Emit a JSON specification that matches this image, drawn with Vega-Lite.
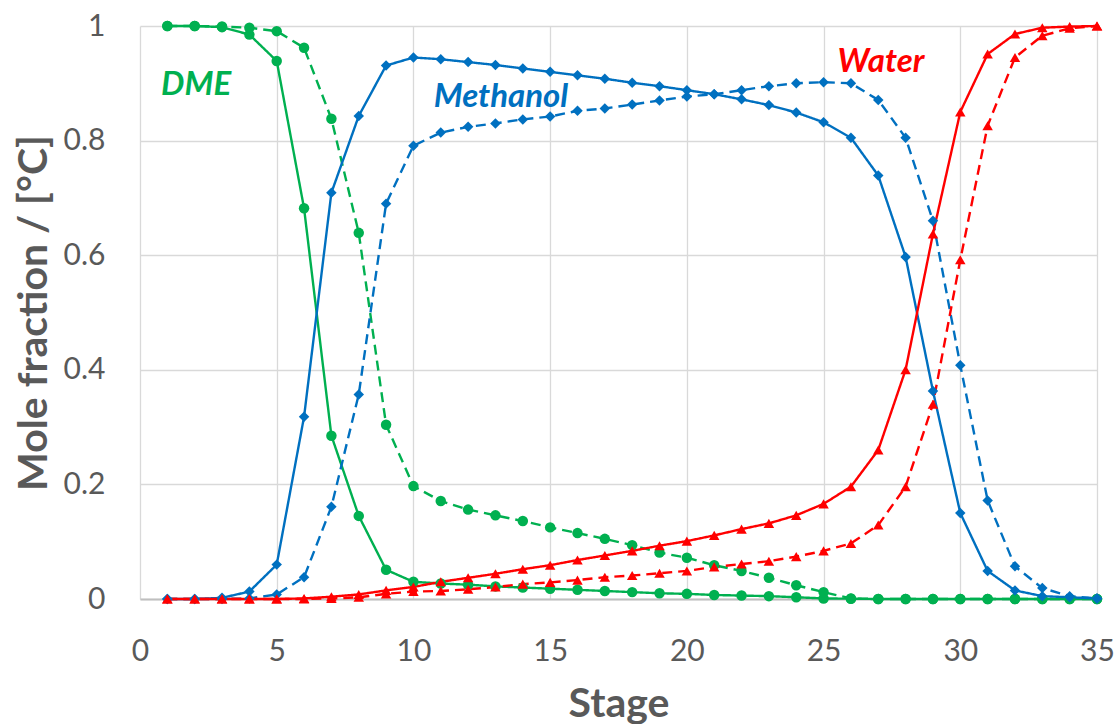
{
  "$schema": "https://vega.github.io/schema/vega-lite/v6.json",
  "autosize": "none",
  "width": 957,
  "height": 573,
  "padding": {"left": 140, "top": 26, "right": 20, "bottom": 125},
  "background": "white",
  "config": {
    "view": {"stroke": null},
    "font": "Lato",
    "axis": {
      "gridColor": "#D9D9D9",
      "gridWidth": 1.3,
      "ticks": false,
      "labelFont": "Lato",
      "labelFontSize": 30,
      "labelColor": "#595959",
      "labelFlush": false,
      "titleFont": "Lato",
      "titleFontSize": 41,
      "titleFontWeight": "bold",
      "titleColor": "#595959"
    }
  },
  "datasets": {
    "labels": [
      {"s": 2.05, "v": 0.880, "name": "DME", "comp": "DME"},
      {"s": 13.2, "v": 0.859, "name": "Methanol", "comp": "Methanol"},
      {"s": 27.1, "v": 0.920, "name": "Water", "comp": "Water"}
    ]
  },
  "data": {
    "values": [
      {"s":1,"v":1.0,"comp":"DME","kind":"solid"},
      {"s":2,"v":1.0,"comp":"DME","kind":"solid"},
      {"s":3,"v":0.998,"comp":"DME","kind":"solid"},
      {"s":4,"v":0.985,"comp":"DME","kind":"solid"},
      {"s":5,"v":0.939,"comp":"DME","kind":"solid"},
      {"s":6,"v":0.682,"comp":"DME","kind":"solid"},
      {"s":7,"v":0.285,"comp":"DME","kind":"solid"},
      {"s":8,"v":0.145,"comp":"DME","kind":"solid"},
      {"s":9,"v":0.051,"comp":"DME","kind":"solid"},
      {"s":10,"v":0.030,"comp":"DME","kind":"solid"},
      {"s":11,"v":0.027,"comp":"DME","kind":"solid"},
      {"s":12,"v":0.025,"comp":"DME","kind":"solid"},
      {"s":13,"v":0.022,"comp":"DME","kind":"solid"},
      {"s":14,"v":0.020,"comp":"DME","kind":"solid"},
      {"s":15,"v":0.018,"comp":"DME","kind":"solid"},
      {"s":16,"v":0.016,"comp":"DME","kind":"solid"},
      {"s":17,"v":0.014,"comp":"DME","kind":"solid"},
      {"s":18,"v":0.012,"comp":"DME","kind":"solid"},
      {"s":19,"v":0.010,"comp":"DME","kind":"solid"},
      {"s":20,"v":0.009,"comp":"DME","kind":"solid"},
      {"s":21,"v":0.007,"comp":"DME","kind":"solid"},
      {"s":22,"v":0.006,"comp":"DME","kind":"solid"},
      {"s":23,"v":0.005,"comp":"DME","kind":"solid"},
      {"s":24,"v":0.003,"comp":"DME","kind":"solid"},
      {"s":25,"v":0.001,"comp":"DME","kind":"solid"},
      {"s":26,"v":0.0005,"comp":"DME","kind":"solid"},
      {"s":27,"v":0.0,"comp":"DME","kind":"solid"},
      {"s":28,"v":0.0,"comp":"DME","kind":"solid"},
      {"s":29,"v":0.0,"comp":"DME","kind":"solid"},
      {"s":30,"v":0.0,"comp":"DME","kind":"solid"},
      {"s":31,"v":0.0,"comp":"DME","kind":"solid"},
      {"s":32,"v":0.0,"comp":"DME","kind":"solid"},
      {"s":33,"v":0.0,"comp":"DME","kind":"solid"},
      {"s":34,"v":0.0,"comp":"DME","kind":"solid"},
      {"s":35,"v":0.0,"comp":"DME","kind":"solid"},

      {"s":1,"v":1.0,"comp":"DME","kind":"dashed"},
      {"s":2,"v":1.0,"comp":"DME","kind":"dashed"},
      {"s":3,"v":0.999,"comp":"DME","kind":"dashed"},
      {"s":4,"v":0.997,"comp":"DME","kind":"dashed"},
      {"s":5,"v":0.991,"comp":"DME","kind":"dashed"},
      {"s":6,"v":0.962,"comp":"DME","kind":"dashed"},
      {"s":7,"v":0.838,"comp":"DME","kind":"dashed"},
      {"s":8,"v":0.639,"comp":"DME","kind":"dashed"},
      {"s":9,"v":0.304,"comp":"DME","kind":"dashed"},
      {"s":10,"v":0.197,"comp":"DME","kind":"dashed"},
      {"s":11,"v":0.171,"comp":"DME","kind":"dashed"},
      {"s":12,"v":0.156,"comp":"DME","kind":"dashed"},
      {"s":13,"v":0.146,"comp":"DME","kind":"dashed"},
      {"s":14,"v":0.136,"comp":"DME","kind":"dashed"},
      {"s":15,"v":0.125,"comp":"DME","kind":"dashed"},
      {"s":16,"v":0.115,"comp":"DME","kind":"dashed"},
      {"s":17,"v":0.105,"comp":"DME","kind":"dashed"},
      {"s":18,"v":0.094,"comp":"DME","kind":"dashed"},
      {"s":19,"v":0.081,"comp":"DME","kind":"dashed"},
      {"s":20,"v":0.072,"comp":"DME","kind":"dashed"},
      {"s":21,"v":0.059,"comp":"DME","kind":"dashed"},
      {"s":22,"v":0.049,"comp":"DME","kind":"dashed"},
      {"s":23,"v":0.037,"comp":"DME","kind":"dashed"},
      {"s":24,"v":0.024,"comp":"DME","kind":"dashed"},
      {"s":25,"v":0.012,"comp":"DME","kind":"dashed"},
      {"s":26,"v":0.001,"comp":"DME","kind":"dashed"},
      {"s":27,"v":0.0,"comp":"DME","kind":"dashed"},
      {"s":28,"v":0.0,"comp":"DME","kind":"dashed"},
      {"s":29,"v":0.0,"comp":"DME","kind":"dashed"},
      {"s":30,"v":0.0,"comp":"DME","kind":"dashed"},
      {"s":31,"v":0.0,"comp":"DME","kind":"dashed"},
      {"s":32,"v":0.0,"comp":"DME","kind":"dashed"},
      {"s":33,"v":0.0,"comp":"DME","kind":"dashed"},
      {"s":34,"v":0.0,"comp":"DME","kind":"dashed"},
      {"s":35,"v":0.0,"comp":"DME","kind":"dashed"},

      {"s":1,"v":0.0,"comp":"Methanol","kind":"solid"},
      {"s":2,"v":0.0,"comp":"Methanol","kind":"solid"},
      {"s":3,"v":0.002,"comp":"Methanol","kind":"solid"},
      {"s":4,"v":0.013,"comp":"Methanol","kind":"solid"},
      {"s":5,"v":0.060,"comp":"Methanol","kind":"solid"},
      {"s":6,"v":0.318,"comp":"Methanol","kind":"solid"},
      {"s":7,"v":0.709,"comp":"Methanol","kind":"solid"},
      {"s":8,"v":0.843,"comp":"Methanol","kind":"solid"},
      {"s":9,"v":0.931,"comp":"Methanol","kind":"solid"},
      {"s":10,"v":0.945,"comp":"Methanol","kind":"solid"},
      {"s":11,"v":0.942,"comp":"Methanol","kind":"solid"},
      {"s":12,"v":0.937,"comp":"Methanol","kind":"solid"},
      {"s":13,"v":0.932,"comp":"Methanol","kind":"solid"},
      {"s":14,"v":0.926,"comp":"Methanol","kind":"solid"},
      {"s":15,"v":0.920,"comp":"Methanol","kind":"solid"},
      {"s":16,"v":0.914,"comp":"Methanol","kind":"solid"},
      {"s":17,"v":0.908,"comp":"Methanol","kind":"solid"},
      {"s":18,"v":0.901,"comp":"Methanol","kind":"solid"},
      {"s":19,"v":0.895,"comp":"Methanol","kind":"solid"},
      {"s":20,"v":0.888,"comp":"Methanol","kind":"solid"},
      {"s":21,"v":0.881,"comp":"Methanol","kind":"solid"},
      {"s":22,"v":0.872,"comp":"Methanol","kind":"solid"},
      {"s":23,"v":0.862,"comp":"Methanol","kind":"solid"},
      {"s":24,"v":0.849,"comp":"Methanol","kind":"solid"},
      {"s":25,"v":0.832,"comp":"Methanol","kind":"solid"},
      {"s":26,"v":0.805,"comp":"Methanol","kind":"solid"},
      {"s":27,"v":0.739,"comp":"Methanol","kind":"solid"},
      {"s":28,"v":0.597,"comp":"Methanol","kind":"solid"},
      {"s":29,"v":0.363,"comp":"Methanol","kind":"solid"},
      {"s":30,"v":0.150,"comp":"Methanol","kind":"solid"},
      {"s":31,"v":0.049,"comp":"Methanol","kind":"solid"},
      {"s":32,"v":0.015,"comp":"Methanol","kind":"solid"},
      {"s":33,"v":0.005,"comp":"Methanol","kind":"solid"},
      {"s":34,"v":0.003,"comp":"Methanol","kind":"solid"},
      {"s":35,"v":0.001,"comp":"Methanol","kind":"solid"},

      {"s":1,"v":0.0,"comp":"Methanol","kind":"dashed"},
      {"s":2,"v":0.0,"comp":"Methanol","kind":"dashed"},
      {"s":3,"v":0.0,"comp":"Methanol","kind":"dashed"},
      {"s":4,"v":0.001,"comp":"Methanol","kind":"dashed"},
      {"s":5,"v":0.008,"comp":"Methanol","kind":"dashed"},
      {"s":6,"v":0.038,"comp":"Methanol","kind":"dashed"},
      {"s":7,"v":0.161,"comp":"Methanol","kind":"dashed"},
      {"s":8,"v":0.357,"comp":"Methanol","kind":"dashed"},
      {"s":9,"v":0.690,"comp":"Methanol","kind":"dashed"},
      {"s":10,"v":0.791,"comp":"Methanol","kind":"dashed"},
      {"s":11,"v":0.814,"comp":"Methanol","kind":"dashed"},
      {"s":12,"v":0.824,"comp":"Methanol","kind":"dashed"},
      {"s":13,"v":0.830,"comp":"Methanol","kind":"dashed"},
      {"s":14,"v":0.837,"comp":"Methanol","kind":"dashed"},
      {"s":15,"v":0.842,"comp":"Methanol","kind":"dashed"},
      {"s":16,"v":0.852,"comp":"Methanol","kind":"dashed"},
      {"s":17,"v":0.856,"comp":"Methanol","kind":"dashed"},
      {"s":18,"v":0.863,"comp":"Methanol","kind":"dashed"},
      {"s":19,"v":0.870,"comp":"Methanol","kind":"dashed"},
      {"s":20,"v":0.877,"comp":"Methanol","kind":"dashed"},
      {"s":21,"v":0.881,"comp":"Methanol","kind":"dashed"},
      {"s":22,"v":0.888,"comp":"Methanol","kind":"dashed"},
      {"s":23,"v":0.895,"comp":"Methanol","kind":"dashed"},
      {"s":24,"v":0.900,"comp":"Methanol","kind":"dashed"},
      {"s":25,"v":0.902,"comp":"Methanol","kind":"dashed"},
      {"s":26,"v":0.900,"comp":"Methanol","kind":"dashed"},
      {"s":27,"v":0.871,"comp":"Methanol","kind":"dashed"},
      {"s":28,"v":0.805,"comp":"Methanol","kind":"dashed"},
      {"s":29,"v":0.660,"comp":"Methanol","kind":"dashed"},
      {"s":30,"v":0.408,"comp":"Methanol","kind":"dashed"},
      {"s":31,"v":0.172,"comp":"Methanol","kind":"dashed"},
      {"s":32,"v":0.057,"comp":"Methanol","kind":"dashed"},
      {"s":33,"v":0.019,"comp":"Methanol","kind":"dashed"},
      {"s":34,"v":0.005,"comp":"Methanol","kind":"dashed"},
      {"s":35,"v":0.001,"comp":"Methanol","kind":"dashed"},

      {"s":1,"v":0.0,"comp":"Water","kind":"solid"},
      {"s":2,"v":0.0,"comp":"Water","kind":"solid"},
      {"s":3,"v":0.0,"comp":"Water","kind":"solid"},
      {"s":4,"v":0.0,"comp":"Water","kind":"solid"},
      {"s":5,"v":0.0,"comp":"Water","kind":"solid"},
      {"s":6,"v":0.001,"comp":"Water","kind":"solid"},
      {"s":7,"v":0.004,"comp":"Water","kind":"solid"},
      {"s":8,"v":0.008,"comp":"Water","kind":"solid"},
      {"s":9,"v":0.015,"comp":"Water","kind":"solid"},
      {"s":10,"v":0.021,"comp":"Water","kind":"solid"},
      {"s":11,"v":0.030,"comp":"Water","kind":"solid"},
      {"s":12,"v":0.037,"comp":"Water","kind":"solid"},
      {"s":13,"v":0.044,"comp":"Water","kind":"solid"},
      {"s":14,"v":0.052,"comp":"Water","kind":"solid"},
      {"s":15,"v":0.059,"comp":"Water","kind":"solid"},
      {"s":16,"v":0.068,"comp":"Water","kind":"solid"},
      {"s":17,"v":0.076,"comp":"Water","kind":"solid"},
      {"s":18,"v":0.084,"comp":"Water","kind":"solid"},
      {"s":19,"v":0.093,"comp":"Water","kind":"solid"},
      {"s":20,"v":0.101,"comp":"Water","kind":"solid"},
      {"s":21,"v":0.111,"comp":"Water","kind":"solid"},
      {"s":22,"v":0.122,"comp":"Water","kind":"solid"},
      {"s":23,"v":0.132,"comp":"Water","kind":"solid"},
      {"s":24,"v":0.146,"comp":"Water","kind":"solid"},
      {"s":25,"v":0.166,"comp":"Water","kind":"solid"},
      {"s":26,"v":0.196,"comp":"Water","kind":"solid"},
      {"s":27,"v":0.260,"comp":"Water","kind":"solid"},
      {"s":28,"v":0.400,"comp":"Water","kind":"solid"},
      {"s":29,"v":0.637,"comp":"Water","kind":"solid"},
      {"s":30,"v":0.850,"comp":"Water","kind":"solid"},
      {"s":31,"v":0.951,"comp":"Water","kind":"solid"},
      {"s":32,"v":0.986,"comp":"Water","kind":"solid"},
      {"s":33,"v":0.997,"comp":"Water","kind":"solid"},
      {"s":34,"v":0.999,"comp":"Water","kind":"solid"},
      {"s":35,"v":1.0,"comp":"Water","kind":"solid"},

      {"s":1,"v":0.0,"comp":"Water","kind":"dashed"},
      {"s":2,"v":0.0,"comp":"Water","kind":"dashed"},
      {"s":3,"v":0.0,"comp":"Water","kind":"dashed"},
      {"s":4,"v":0.0,"comp":"Water","kind":"dashed"},
      {"s":5,"v":0.0,"comp":"Water","kind":"dashed"},
      {"s":6,"v":0.0,"comp":"Water","kind":"dashed"},
      {"s":7,"v":0.001,"comp":"Water","kind":"dashed"},
      {"s":8,"v":0.003,"comp":"Water","kind":"dashed"},
      {"s":9,"v":0.009,"comp":"Water","kind":"dashed"},
      {"s":10,"v":0.013,"comp":"Water","kind":"dashed"},
      {"s":11,"v":0.014,"comp":"Water","kind":"dashed"},
      {"s":12,"v":0.017,"comp":"Water","kind":"dashed"},
      {"s":13,"v":0.021,"comp":"Water","kind":"dashed"},
      {"s":14,"v":0.026,"comp":"Water","kind":"dashed"},
      {"s":15,"v":0.029,"comp":"Water","kind":"dashed"},
      {"s":16,"v":0.033,"comp":"Water","kind":"dashed"},
      {"s":17,"v":0.038,"comp":"Water","kind":"dashed"},
      {"s":18,"v":0.041,"comp":"Water","kind":"dashed"},
      {"s":19,"v":0.045,"comp":"Water","kind":"dashed"},
      {"s":20,"v":0.049,"comp":"Water","kind":"dashed"},
      {"s":21,"v":0.056,"comp":"Water","kind":"dashed"},
      {"s":22,"v":0.061,"comp":"Water","kind":"dashed"},
      {"s":23,"v":0.066,"comp":"Water","kind":"dashed"},
      {"s":24,"v":0.074,"comp":"Water","kind":"dashed"},
      {"s":25,"v":0.084,"comp":"Water","kind":"dashed"},
      {"s":26,"v":0.097,"comp":"Water","kind":"dashed"},
      {"s":27,"v":0.129,"comp":"Water","kind":"dashed"},
      {"s":28,"v":0.196,"comp":"Water","kind":"dashed"},
      {"s":29,"v":0.340,"comp":"Water","kind":"dashed"},
      {"s":30,"v":0.592,"comp":"Water","kind":"dashed"},
      {"s":31,"v":0.826,"comp":"Water","kind":"dashed"},
      {"s":32,"v":0.945,"comp":"Water","kind":"dashed"},
      {"s":33,"v":0.983,"comp":"Water","kind":"dashed"},
      {"s":34,"v":0.996,"comp":"Water","kind":"dashed"},
      {"s":35,"v":1.0,"comp":"Water","kind":"dashed"}
    ]
  },
  "encoding": {
    "x": {
      "field": "s", "type": "quantitative", "title": "Stage",
      "scale": {"domain": [0, 35], "nice": false},
      "axis": {"values": [0, 5, 10, 15, 20, 25, 30, 35], "domain": true, "domainColor": "#BFBFBF", "domainWidth": 2, "labelPadding": 37, "titlePadding": 18}
    },
    "y": {
      "field": "v", "type": "quantitative", "title": "Mole fraction / [°C]",
      "scale": {"domain": [0, 1], "nice": false},
      "axis": {"values": [0, 0.2, 0.4, 0.6, 0.8, 1], "format": "~g", "domain": false, "labelPadding": 35, "titlePadding": 8}
    },
    "color": {
      "field": "comp", "type": "nominal",
      "scale": {"domain": ["DME", "Methanol", "Water"], "range": ["#00B050", "#0070C0", "#FF0000"]},
      "legend": null
    }
  },
  "layer": [
    {
      "mark": {"type": "line", "strokeWidth": 2.4},
      "encoding": {
        "strokeDash": {
          "field": "kind", "type": "nominal",
          "scale": {"domain": ["solid", "dashed"], "range": [[1, 0], [10, 6]]},
          "legend": null
        },
        "detail": {"field": "kind", "type": "nominal"}
      }
    },
    {
      "mark": {"type": "point", "filled": true, "opacity": 1, "size": 110},
      "encoding": {
        "shape": {
          "field": "comp", "type": "nominal",
          "scale": {"domain": ["DME", "Methanol", "Water"], "range": ["circle", "diamond", "triangle-up"]},
          "legend": null
        }
      }
    },
    {
      "data": {"name": "labels"},
      "mark": {"type": "text", "font": "Lato", "fontSize": 33, "fontWeight": "bold", "fontStyle": "italic", "align": "center", "baseline": "alphabetic"},
      "encoding": {
        "text": {"field": "name", "type": "nominal"}
      }
    }
  ]
}
